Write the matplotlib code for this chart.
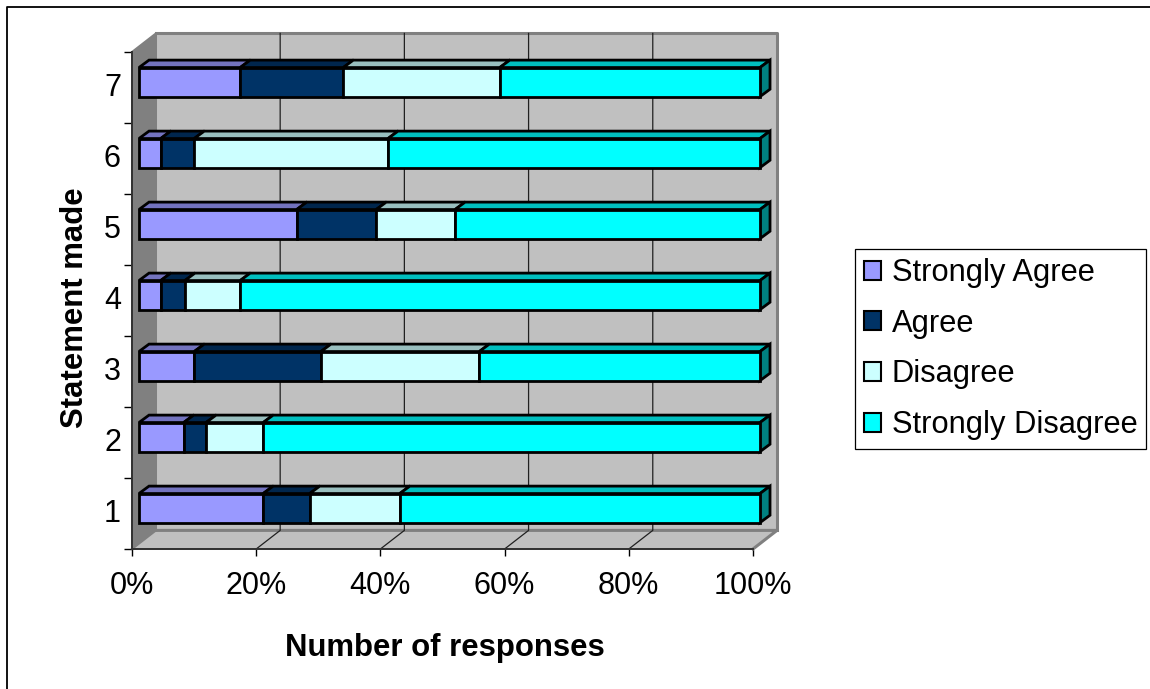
import matplotlib
matplotlib.use('Agg')
import numpy as np
import matplotlib.pyplot as plt
from matplotlib.patches import Polygon, Patch
from matplotlib.lines import Line2D

plt.rcParams['font.family'] = ['Liberation Sans', 'DejaVu Sans']

statements = ['1', '2', '3', '4', '5', '6', '7']
series = ['Strongly Agree', 'Agree', 'Disagree', 'Strongly Disagree']
strongly_agree = [20.0, 7.2, 8.9, 3.5, 25.4, 3.5, 16.3]
agree = [7.5, 3.6, 20.4, 3.9, 12.8, 5.4, 16.6]
disagree = [14.5, 9.2, 25.5, 8.9, 12.7, 31.2, 25.2]
strongly_disagree = [58.0, 80.0, 45.2, 83.7, 49.1, 59.9, 41.9]
xticks = [0, 20, 40, 60, 80, 100]

face = ['#9999FF', '#003366', '#CCFFFF', '#00FFFF']
top = ['#7373BF', '#00264D', '#99BFBF', '#00BFBF']
side = ['#4D4D80', '#001A33', '#668080', '#008080']

# depth of the fake 3d box, in data units
DX = 3.86
DY = 0.262
BAR_H = 0.41
ymax = len(statements)

fig = plt.figure(figsize=(11.5, 6.89), dpi=100)
ax = fig.add_axes([132 / 1150, (689 - 549) / 689, 621 / 1150, 497 / 689])
ax.set_xlim(0, 100)
ax.set_ylim(0, ymax)
for s in ax.spines.values():
    s.set_visible(False)
ax.patch.set_visible(False)


def poly(pts, fc, ec='none', lw=0, z=1):
    ax.add_patch(Polygon(pts, closed=True, fc=fc, ec=ec, lw=lw, zorder=z,
                         clip_on=False, joinstyle='miter'))


# walls and floor
poly([(DX, DY), (100 + DX, DY), (100 + DX, ymax + DY), (DX, ymax + DY)], '#C0C0C0')
poly([(0, 0), (DX, DY), (DX, ymax + DY), (0, ymax)], '#808080')
poly([(0, 0), (100, 0), (100 + DX, DY), (DX, DY)], '#C0C0C0')
ax.plot([DX, 100 + DX, 100 + DX], [ymax + DY, ymax + DY, DY], color='#808080', lw=2.2,
        zorder=2, clip_on=False)
ax.plot([DX, 100 + DX, 100], [DY, DY, 0], color='#808080', lw=2.2, zorder=2, clip_on=False)
ax.plot([0, DX, DX], [ymax, ymax + DY, DY], color='#808080', lw=1.5, zorder=2, clip_on=False)
ax.plot([0, DX], [0, DY], color='#808080', lw=1.5, zorder=2, clip_on=False)

# grid on back wall and floor
for t in xticks[1:-1]:
    ax.plot([t, t + DX, t + DX], [0, DY, ymax + DY], color='#202020', lw=0.9, zorder=2,
            clip_on=False)

# stacked bars
values = np.array([strongly_agree, agree, disagree, strongly_disagree])
ox = DX * 0.29
oy = DY * 0.29
bx = DX * 0.42
by = DY * 0.40
for i in range(len(statements)):
    y0 = i + 0.5 - BAR_H / 2 + oy
    y1 = y0 + BAR_H
    left = 0
    for k in range(len(series)):
        a = left + ox
        b = a + values[k][i]
        poly([(a, y1), (b, y1), (b + bx, y1 + by), (a + bx, y1 + by)], top[k], 'black', 2, 3)
        if k == len(series) - 1:
            poly([(b, y0), (b + bx, y0 + by), (b + bx, y1 + by), (b, y1)], side[k], 'black', 2, 3)
        poly([(a, y0), (b, y0), (b, y1), (a, y1)], face[k], 'black', 2, 4)
        left += values[k][i]

# axes lines
ax.plot([0, 100], [0, 0], color='#303030', lw=1.4, zorder=5, clip_on=False)
ax.plot([0, 0], [0, ymax], color='#303030', lw=1.4, zorder=5, clip_on=False)

ax.set_xticks(xticks)
ax.set_xticklabels([str(t) + '%' for t in xticks], fontsize=22)
ax.set_yticks(range(ymax + 1))
ax.set_yticklabels([])
ax.set_yticks(np.arange(ymax) + 0.54, minor=True)
ax.set_yticklabels(statements, minor=True, fontsize=22)
ax.tick_params(axis='x', length=5, width=1, color='black', pad=11)
ax.tick_params(axis='y', which='major', length=6, width=1, color='black')
ax.tick_params(axis='y', which='minor', length=0, pad=8)

fig.text(445 / 1150, 1 - 648 / 689, 'Number of responses', fontsize=22.4, fontweight='bold',
         ha='center', va='center')
fig.text(75 / 1150, 1 - 308 / 689, 'Statement made', fontsize=22.4, fontweight='bold',
         rotation=90, ha='center', va='center')

# legend
handles = [Patch(fc=face[k], ec='black', lw=1.5) for k in range(len(series))]
leg = fig.legend(handles, series, loc='center', bbox_to_anchor=(1000.5 / 1150, 1 - 349 / 689),
                 fontsize=22.2, frameon=True, fancybox=False, edgecolor='black', framealpha=1,
                 handlelength=0.58, handleheight=0.58, handletextpad=0.33,
                 labelspacing=0.67, borderpad=0.28, borderaxespad=0)
leg.get_frame().set_linewidth(0.9)

# outer frame, only left and top show in the picture
fig.add_artist(Line2D([7 / 1150, 7 / 1150, 1], [0, 1 - 7 / 689, 1 - 7 / 689], color='black', lw=1.3))

fig.savefig('out.png', dpi=100)
